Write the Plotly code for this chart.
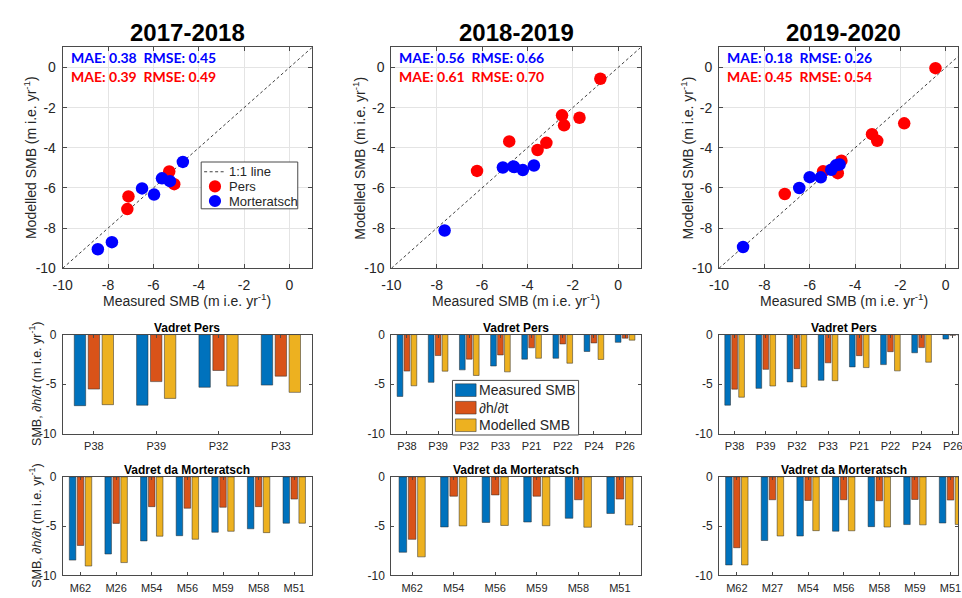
import plotly.graph_objects as go

W, H = 962, 598

seasons = ["2017-2018", "2018-2019", "2019-2020"]

# Error statistics per season (Morteratsch in blue, Pers in red)
mor_mae = ["0.38", "0.56", "0.18"]
mor_rmse = ["0.45", "0.66", "0.26"]
pers_mae = ["0.39", "0.61", "0.45"]
pers_rmse = ["0.49", "0.70", "0.54"]

# Vadret Pers stakes: measured SMB, thickness change dh/dt, modelled SMB
pers_stakes_1718 = ["P38", "P39", "P32", "P33"]
pers_meas_1718 = [-7.15, -7.10, -5.30, -5.08]
pers_dhdt_1718 = [-5.48, -4.73, -3.61, -4.18]
pers_mod_1718 = [-7.05, -6.42, -5.18, -5.81]

pers_stakes_1819 = ["P38", "P39", "P32", "P33", "P21", "P22", "P24", "P26"]
pers_meas_1819 = [-6.22, -4.80, -3.55, -3.16, -2.47, -2.38, -1.70, -0.78]
pers_dhdt_1819 = [-3.67, -2.11, -2.47, -2.05, -1.33, -0.94, -0.84, -0.36]
pers_mod_1819 = [-5.15, -3.68, -4.11, -3.75, -2.38, -2.88, -2.50, -0.56]

pers_stakes_1920 = ["P38", "P39", "P32", "P33", "P21", "P22", "P24", "P26"]
pers_meas_1920 = [-7.10, -5.41, -4.76, -4.60, -3.25, -3.02, -1.83, -0.45]
pers_dhdt_1920 = [-5.49, -3.50, -3.43, -2.84, -2.12, -1.72, -1.31, -0.08]
pers_mod_1920 = [-6.30, -5.17, -5.26, -4.64, -3.32, -3.65, -2.78, -0.03]

# Vadret da Morteratsch stakes
mor_stakes_1718 = ["M62", "M26", "M54", "M56", "M59", "M58", "M51"]
mor_meas_1718 = [-8.45, -7.83, -6.50, -5.97, -5.62, -5.27, -4.70]
mor_dhdt_1718 = [-6.96, -4.72, -3.02, -3.18, -3.08, -3.02, -2.25]
mor_mod_1718 = [-9.05, -8.70, -6.02, -6.33, -5.52, -5.66, -4.70]

mor_stakes_1819 = ["M62", "M54", "M56", "M59", "M58", "M51"]
mor_meas_1819 = [-7.65, -5.08, -4.62, -4.58, -4.20, -3.71]
mor_dhdt_1819 = [-6.34, -1.96, -1.83, -1.96, -2.32, -2.25]
mor_mod_1819 = [-8.12, -4.98, -4.93, -4.96, -5.11, -4.88]

mor_stakes_1920 = ["M62", "M27", "M54", "M56", "M58", "M59", "M51"]
mor_meas_1920 = [-8.94, -6.46, -6.00, -5.51, -5.05, -4.84, -4.68]
mor_dhdt_1920 = [-7.19, -2.32, -2.39, -2.32, -2.42, -2.29, -2.35]
mor_mod_1920 = [-8.94, -6.00, -5.46, -5.47, -5.09, -4.87, -4.83]

# 1:1 reference line end points
one_to_one = [-10, 1]

scatter_ticks = [-10, -8, -6, -4, -2, 0]
bar_ticks = [-10, -5, 0]

pers_sets = [
    (pers_stakes_1718, pers_meas_1718, pers_dhdt_1718, pers_mod_1718),
    (pers_stakes_1819, pers_meas_1819, pers_dhdt_1819, pers_mod_1819),
    (pers_stakes_1920, pers_meas_1920, pers_dhdt_1920, pers_mod_1920),
]
mor_sets = [
    (mor_stakes_1718, mor_meas_1718, mor_dhdt_1718, mor_mod_1718),
    (mor_stakes_1819, mor_meas_1819, mor_dhdt_1819, mor_mod_1819),
    (mor_stakes_1920, mor_meas_1920, mor_dhdt_1920, mor_mod_1920),
]

FONT = "Liberation Sans, Arial, Helvetica, sans-serif"
STAT_FONT = "Lato, Open Sans, sans-serif"
TXT = "#262626"
AX = "#4a4a4a"
GRID = "#e4e4e4"
RED = "#FF0000"
BLUE = "#0000FF"
C_MEAS = "#0072BD"
C_DHDT = "#D95319"
C_MOD = "#EDB120"
EDGE = "rgba(40,40,40,0.85)"

# panel geometry in pixels
col_left = [53.5, 387.0, 719.5]
panel_w = 253.0
sc_top, sc_bot = 41.5, 268.0
row2_top, row2_bot = 336.0, 438.0
row3_top, row3_bot = 482.0, 583.0


def fx(p):
    return p / W


def fy(p):
    return 1 - p / H


def ticktxt(vals):
    return [str(v) for v in vals]


def paper_text(text, x, y, size, color=TXT, family=FONT, xanchor="center", angle=0):
    return dict(
        text=text, x=fx(x), y=fy(y), xref="paper", yref="paper", showarrow=False,
        xanchor=xanchor, yanchor="middle", textangle=angle,
        font=dict(family=family, size=size, color=color),
    )


fig = go.Figure()
layout = {}
annotations = []
shapes = []

for i in range(3):
    left = col_left[i]
    right = min(left + panel_w, W)
    visible = right - left
    cx = left + panel_w / 2

    # ---------------- scatter: measured vs modelled ----------------
    k = i + 1
    xa, ya = f"xaxis{k if k > 1 else ''}", f"yaxis{k if k > 1 else ''}"
    xr, yr = f"x{k if k > 1 else ''}", f"y{k if k > 1 else ''}"
    layout[xa] = dict(
        domain=[fx(left), fx(right)], anchor=yr,
        range=[-10, -10 + visible / (panel_w / 11.0)],
        tickvals=scatter_ticks, ticktext=ticktxt(scatter_ticks),
        ticks="inside", ticklen=4, tickcolor=AX, showline=True, linecolor=AX,
        linewidth=1, mirror="ticks", showgrid=True, gridcolor=GRID, zeroline=False,
        tickfont=dict(family=FONT, size=14, color=TXT), ticklabelstandoff=4,
        ticklabeloverflow="allow",
    )
    layout[ya] = dict(
        domain=[fy(sc_bot), fy(sc_top)], anchor=xr, range=[-10, 1],
        tickvals=scatter_ticks, ticktext=ticktxt(scatter_ticks),
        ticks="inside", ticklen=4, tickcolor=AX, showline=True, linecolor=AX,
        linewidth=1, mirror="ticks", showgrid=True, gridcolor=GRID, zeroline=False,
        tickfont=dict(family=FONT, size=14, color=TXT), ticklabelstandoff=3,
    )
    fig.add_trace(go.Scatter(
        x=one_to_one, y=one_to_one, mode="lines", name="1:1 line",
        line=dict(color="#404040", width=1, dash="3px,2.5px"),
        xaxis=xr, yaxis=yr, showlegend=False, hoverinfo="skip",
    ))
    p_st, p_meas, p_dh, p_mod = pers_sets[i]
    m_st, m_meas, m_dh, m_mod = mor_sets[i]
    fig.add_trace(go.Scatter(
        x=p_meas, y=p_mod, mode="markers", name="Pers", text=p_st,
        marker=dict(color=RED, size=12.5), xaxis=xr, yaxis=yr, showlegend=False,
    ))
    fig.add_trace(go.Scatter(
        x=m_meas, y=m_mod, mode="markers", name="Morteratsch", text=m_st,
        marker=dict(color=BLUE, size=12.5), xaxis=xr, yaxis=yr, showlegend=False,
    ))

    annotations.append(paper_text(f"<b>{seasons[i]}</b>", cx, 26, 24, "#000000"))
    annotations.append(paper_text(
        f"<b>MAE: {mor_mae[i]}\u00a0 RMSE: {mor_rmse[i]}</b>", left + 6, 52,
        14, BLUE, STAT_FONT, "left"))
    annotations.append(paper_text(
        f"<b>MAE: {pers_mae[i]}\u00a0 RMSE: {pers_rmse[i]}</b>", left + 6, 71,
        14, RED, STAT_FONT, "left"))
    annotations.append(paper_text(
        "Measured SMB (m i.e. yr<sup>-1</sup>)", cx, 301, 14))
    annotations.append(paper_text(
        "Modelled SMB (m i.e. yr<sup>-1</sup>)", left - 33,
        (sc_top + sc_bot) / 2, 14, angle=-90))

    # ---------------- stake bar charts ----------------
    for row, (sets, top, bot, title) in enumerate([
        (pers_sets, row2_top, row2_bot, "Vadret Pers"),
        (mor_sets, row3_top, row3_bot, "Vadret da Morteratsch"),
    ]):
        k = 4 + row * 3 + i
        xa, ya = f"xaxis{k}", f"yaxis{k}"
        xr, yr = f"x{k}", f"y{k}"
        stakes, meas, dh, mod = sets[i]
        n = len(stakes)
        pos = list(range(1, n + 1))
        layout[xa] = dict(
            domain=[fx(left), fx(right)], anchor=yr,
            range=[0.5, 0.5 + visible / (panel_w / n)],
            tickvals=pos, ticktext=stakes, ticks="inside", ticklen=3,
            tickcolor=AX, showline=True, linecolor=AX, linewidth=1,
            mirror="ticks", showgrid=False, zeroline=False,
            tickfont=dict(family=FONT, size=11, color=TXT), ticklabelstandoff=2,
            ticklabeloverflow="allow",
        )
        layout[ya] = dict(
            domain=[fy(bot), fy(top)], anchor=xr, range=[-10, 0],
            tickvals=bar_ticks, ticktext=ticktxt(bar_ticks), ticks="inside",
            ticklen=3, tickcolor=AX, showline=True, linecolor=AX, linewidth=1,
            mirror="ticks", showgrid=False, zeroline=False,
            tickfont=dict(family=FONT, size=12, color=TXT), ticklabelstandoff=3,
        )
        for name, vals, col in [
            ("Measured SMB", meas, C_MEAS),
            ("\u2202h/\u2202t", dh, C_DHDT),
            ("Modelled SMB", mod, C_MOD),
        ]:
            fig.add_trace(go.Bar(
                x=pos, y=vals, name=name, xaxis=xr, yaxis=yr, text=stakes,
                textposition="none",
                marker=dict(color=col, line=dict(color=EDGE, width=0.6)),
                showlegend=False,
            ))
        annotations.append(paper_text(f"<b>{title}</b>", cx, top - 7, 12, "#000000"))
        if i == 0:
            annotations.append(paper_text(
                "SMB, <i>\u2202h/\u2202t</i> (m i.e. yr<sup>-1</sup>)", 26,
                (top + bot) / 2, 12.5, angle=-90))


# ---------------- legend of the scatter panels ----------------
def box(x0, y0, x1, y1, fill="white", line=AX, width=1, kind="rect"):
    return dict(type=kind, xref="paper", yref="paper", x0=fx(x0), x1=fx(x1),
                y0=fy(y1), y1=fy(y0), fillcolor=fill, line=dict(color=line, width=width))


shapes.append(box(194, 159, 292, 207))
scatter_legend = [("1:1 line", None), ("Pers", RED), ("Morteratsch", BLUE)]
for j, (label, col) in enumerate(scatter_legend):
    yc = 169 + j * 15
    if col is None:
        shapes.append(dict(type="line", xref="paper", yref="paper",
                           x0=fx(197), x1=fx(218), y0=fy(yc), y1=fy(yc),
                           line=dict(color="#404040", width=1, dash="3px,2.5px")))
    else:
        shapes.append(box(208 - 6.2, yc - 6.2, 208 + 6.2, yc + 6.2, fill=col,
                          line=col, width=0, kind="circle"))
    annotations.append(paper_text(label, 220, yc, 13, xanchor="left"))

# ---------------- legend of the bar panels ----------------
shapes.append(box(449, 383, 577, 439))
bar_legend = [("Measured SMB", C_MEAS), ("\u2202h/\u2202t", C_DHDT), ("Modelled SMB", C_MOD)]
for j, (label, col) in enumerate(bar_legend):
    yc = 393 + j * 18
    shapes.append(box(452, yc - 6.5, 473, yc + 6.5, fill=col, line=EDGE, width=0.6))
    annotations.append(paper_text(label, 474, yc, 14, xanchor="left"))

fig.update_layout(
    width=W, height=H, margin=dict(l=0, r=0, t=0, b=0),
    paper_bgcolor="white", plot_bgcolor="white", showlegend=False,
    barmode="group", bargap=0.33, bargroupgap=0.18,
    annotations=annotations, shapes=shapes,
    **layout,
)

fig.write_html("out.html")
